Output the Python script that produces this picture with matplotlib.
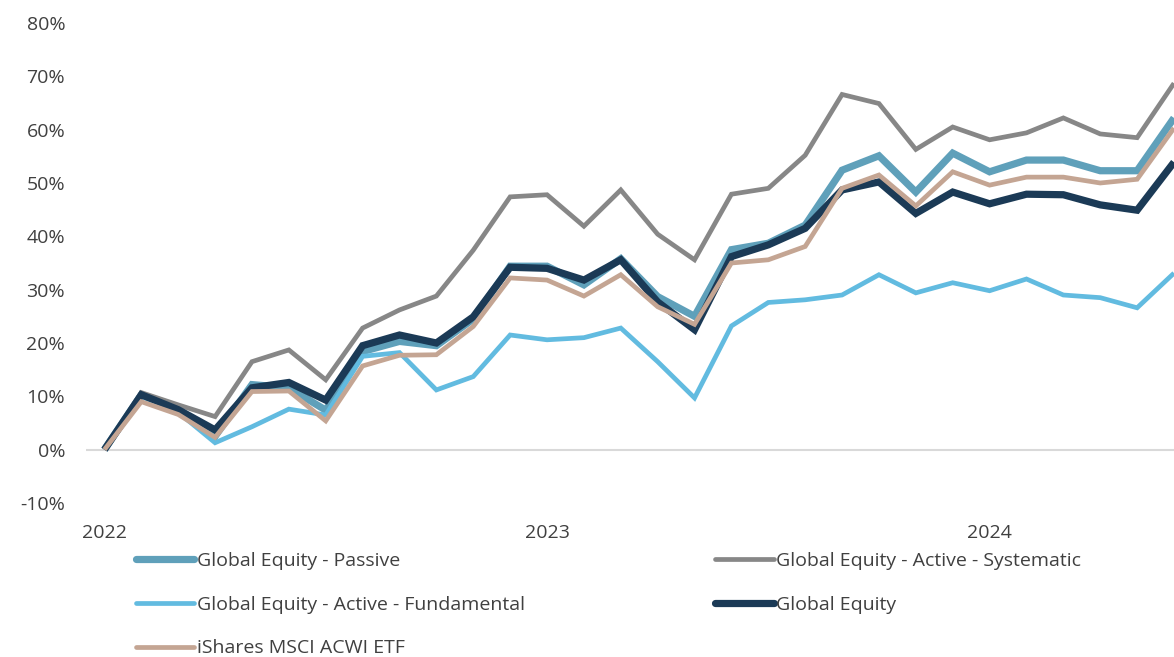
import matplotlib
matplotlib.use("Agg")
import matplotlib.pyplot as plt
from matplotlib.ticker import FuncFormatter

plt.rcParams['font.family'] = ['Open Sans', 'DejaVu Sans']

months = list(range(30))
year_ticks = [0, 12, 24]
year_labels = ["2022", "2023", "2024"]

passive = [0, 10.3, 7.3, 2.5, 12.2, 11.6, 7.4, 18.4, 20.3, 19.5, 24.5, 34.4, 34.4, 30.9, 35.8,
           28.7, 25.0, 37.5, 38.7, 42.1, 52.4, 55.1, 48.3, 55.6, 52.1, 54.3, 54.3, 52.3, 52.3, 62.2]
systematic = [0, 10.7, 8.4, 6.2, 16.5, 18.7, 13.1, 22.8, 26.2, 28.8, 37.4, 47.4, 47.8, 41.9, 48.7,
              40.4, 35.6, 47.9, 49.0, 55.2, 66.6, 64.9, 56.3, 60.5, 58.1, 59.4, 62.2, 59.2, 58.5, 68.7]
fundamental = [0, 10.0, 7.0, 1.3, 4.3, 7.6, 6.5, 17.5, 18.2, 11.2, 13.7, 21.5, 20.6, 21.0, 22.8,
               16.5, 9.7, 23.2, 27.6, 28.1, 29.0, 32.8, 29.4, 31.3, 29.8, 32.0, 29.0, 28.5, 26.6, 33.1]
global_equity = [0, 10.3, 7.5, 3.7, 11.6, 12.6, 9.3, 19.5, 21.5, 20.0, 24.9, 34.2, 34.0, 31.8, 35.6,
                 27.7, 22.5, 36.2, 38.4, 41.5, 48.7, 50.2, 44.3, 48.3, 46.1, 47.9, 47.8, 45.9, 44.9, 53.9]
acwi = [0, 9.0, 6.6, 2.3, 10.9, 11.0, 5.4, 15.7, 17.7, 17.8, 23.1, 32.2, 31.8, 28.8, 32.8,
        26.8, 23.5, 35.0, 35.6, 38.1, 49.0, 51.5, 45.7, 52.1, 49.6, 51.1, 51.1, 50.0, 50.7, 60.3]

series = [
    ("Global Equity - Passive", passive, "#5FA0BA", 5.2),
    ("Global Equity - Active - Systematic", systematic, "#878787", 3.4),
    ("Global Equity - Active - Fundamental", fundamental, "#62BBE0", 3.4),
    ("Global Equity", global_equity, "#1B3A56", 5.2),
    ("iShares MSCI ACWI ETF", acwi, "#C4A593", 3.4),
]

fig = plt.figure(figsize=(11.74, 6.57), dpi=100)
ax = fig.add_axes([86 / 1174, 1 - 503 / 657, 1 - 86 / 1174, (503 - 23) / 657])

ax.axhline(0, color="#D9D9D9", lw=1.5, zorder=1)
lines = {}
for name, vals, col, lw in series:
    ln, = ax.plot(months, vals, color=col, lw=lw, label=name, solid_joinstyle="miter",
                  solid_capstyle="butt", zorder=2)
    lines[name] = ln

ax.set_xlim(-0.5, 29.0)
ax.set_ylim(-10, 80)
ax.set_yticks(range(-10, 81, 10))
ax.yaxis.set_major_formatter(FuncFormatter(lambda v, p: f"{int(round(v))}%"))
ax.set_xticks(year_ticks)
ax.set_xticklabels(year_labels)
ax.tick_params(axis="both", length=0, labelsize=14, colors="#404040")
ax.tick_params(axis="y", pad=15)
ax.tick_params(axis="x", pad=15)
for s in ax.spines.values():
    s.set_visible(False)

# row-major legend order in a column-filled 2-col legend
order = ["Global Equity - Passive", "Global Equity - Active - Fundamental", "iShares MSCI ACWI ETF",
         "Global Equity - Active - Systematic", "Global Equity"]
leg = fig.legend([lines[n] for n in order], order, loc="upper left",
                 bbox_to_anchor=(136 / 1174, 1 - 552 / 657), ncol=2,
                 frameon=False, fontsize=14, handlelength=3.0, handletextpad=0.12,
                 columnspacing=9.8, labelspacing=1.32, borderaxespad=0, borderpad=0)
for t in leg.get_texts():
    t.set_color("#404040")
for h in leg.get_lines():
    h.set_solid_capstyle("round")

fig.savefig("out.png", dpi=100)
